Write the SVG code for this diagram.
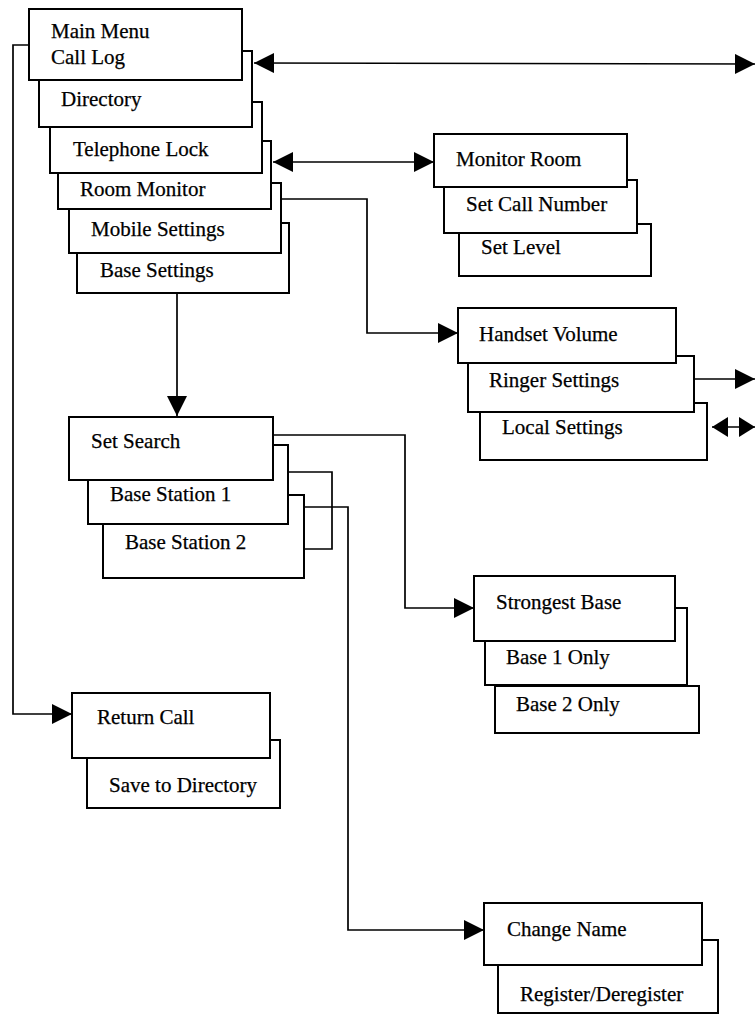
<svg xmlns="http://www.w3.org/2000/svg" width="755" height="1015" viewBox="0 0 755 1015">
  <style>
    .box { fill: #ffffff; stroke: #000000; stroke-width: 2; }
    .lbl { font-family: "Liberation Serif", "Times New Roman", serif; font-size: 21px; fill: #000000; stroke: #000000; stroke-width: 0.25; }
    .wire { fill: none; stroke: #000000; stroke-width: 1.7; }
  </style>
  <defs>
    <marker id="ah" markerUnits="userSpaceOnUse" markerWidth="20" markerHeight="20" refX="20" refY="10" orient="auto-start-reverse">
      <path d="M0,0 L20,10 L0,20 z" fill="#000000"/>
    </marker>
    <marker id="ahs" markerUnits="userSpaceOnUse" markerWidth="16" markerHeight="20" refX="16" refY="10" orient="auto-start-reverse">
      <path d="M0,0 L16,10 L0,20 z" fill="#000000"/>
    </marker>
  </defs>

  <rect width="755" height="1015" fill="#ffffff"/>

  <!-- connectors -->
  <g id="connectors">
    <line class="wire" x1="254" y1="63" x2="755" y2="64" marker-start="url(#ah)" marker-end="url(#ah)"/>
    <line class="wire" x1="273" y1="162" x2="434" y2="162" marker-start="url(#ah)" marker-end="url(#ah)"/>
    <polyline class="wire" points="281,199 367,199 367,333 458,333" marker-end="url(#ah)"/>
    <line class="wire" x1="694" y1="379" x2="755" y2="379" marker-end="url(#ah)"/>
    <line class="wire" x1="712" y1="427" x2="755" y2="427" marker-start="url(#ahs)" marker-end="url(#ahs)"/>
    <line class="wire" x1="177" y1="293" x2="177" y2="416" marker-end="url(#ah)"/>
    <polyline class="wire" points="29,45 13,45 13,714 72,714" marker-end="url(#ah)"/>
    <polyline class="wire" points="273,435 405,435 405,608 474,608" marker-end="url(#ah)"/>
    <polyline class="wire" points="288,472 332,472 332,549 304,549"/>
    <polyline class="wire" points="304,507 348,507 348,930 484,930" marker-end="url(#ah)"/>
  </g>

  <!-- main menu stack (back to front) -->
  <g id="base-settings"><rect class="box" x="77" y="223" width="212" height="70"/><text class="lbl" x="100" y="277">Base Settings</text></g>
  <g id="mobile-settings"><rect class="box" x="69" y="183" width="212" height="70"/><text class="lbl" x="91" y="236">Mobile Settings</text></g>
  <g id="room-monitor"><rect class="box" x="58" y="141" width="213" height="68"/><text class="lbl" x="80" y="196">Room Monitor</text></g>
  <g id="telephone-lock"><rect class="box" x="50" y="102" width="212" height="71"/><text class="lbl" x="73" y="156">Telephone Lock</text></g>
  <g id="directory"><rect class="box" x="39" y="51" width="213" height="76"/><text class="lbl" x="61" y="106">Directory</text></g>
  <g id="main-menu"><rect class="box" x="29" y="9" width="213" height="71"/><text class="lbl" x="51" y="38">Main Menu</text><text class="lbl" x="51" y="64">Call Log</text></g>

  <!-- room monitor sub-menu -->
  <g id="set-level"><rect class="box" x="459" y="224" width="192" height="52"/><text class="lbl" x="481" y="254">Set Level</text></g>
  <g id="set-call-number"><rect class="box" x="444" y="180" width="193" height="53"/><text class="lbl" x="466" y="211">Set Call Number</text></g>
  <g id="monitor-room"><rect class="box" x="434" y="134" width="193" height="53"/><text class="lbl" x="456" y="166">Monitor Room</text></g>

  <!-- mobile settings sub-menu -->
  <g id="local-settings"><rect class="box" x="480" y="403" width="227" height="57"/><text class="lbl" x="502" y="434">Local Settings</text></g>
  <g id="ringer-settings"><rect class="box" x="468" y="356" width="226" height="56"/><text class="lbl" x="489" y="387">Ringer Settings</text></g>
  <g id="handset-volume"><rect class="box" x="458" y="308" width="218" height="55"/><text class="lbl" x="479" y="341">Handset Volume</text></g>

  <!-- base settings sub-menu -->
  <g id="base-station-2"><rect class="box" x="103" y="495" width="201" height="83"/><text class="lbl" x="125" y="549">Base Station 2</text></g>
  <g id="base-station-1"><rect class="box" x="88" y="445" width="200" height="79"/><text class="lbl" x="110" y="501">Base Station 1</text></g>
  <g id="set-search"><rect class="box" x="69" y="417" width="204" height="63"/><text class="lbl" x="91" y="448">Set Search</text></g>

  <!-- set search options -->
  <g id="base-2-only"><rect class="box" x="495" y="686" width="204" height="47"/><text class="lbl" x="516" y="711">Base 2 Only</text></g>
  <g id="base-1-only"><rect class="box" x="485" y="608" width="202" height="77"/><text class="lbl" x="506" y="664">Base 1 Only</text></g>
  <g id="strongest-base"><rect class="box" x="474" y="576" width="201" height="65"/><text class="lbl" x="496" y="609">Strongest Base</text></g>

  <!-- call log options -->
  <g id="save-to-directory"><rect class="box" x="87" y="740" width="193" height="68"/><text class="lbl" x="109" y="792">Save to Directory</text></g>
  <g id="return-call"><rect class="box" x="72" y="693" width="198" height="65"/><text class="lbl" x="97" y="724">Return Call</text></g>

  <!-- base station options -->
  <g id="register-deregister"><rect class="box" x="498" y="940" width="220" height="73"/><text class="lbl" x="520" y="1001">Register/Deregister</text></g>
  <g id="change-name"><rect class="box" x="484" y="903" width="218" height="62"/><text class="lbl" x="507" y="936">Change Name</text></g>
</svg>
